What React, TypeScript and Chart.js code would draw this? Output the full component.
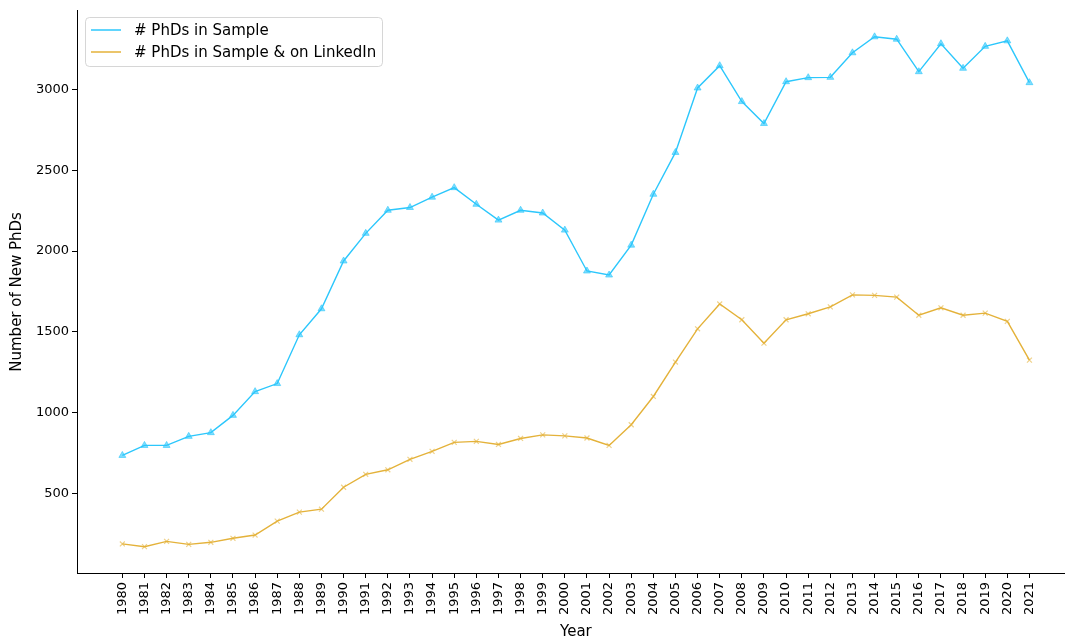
import React, { useEffect, useRef } from "react";
import { Chart, registerables } from "chart.js";

Chart.register(...registerables);

const years = [
  1980, 1981, 1982, 1983, 1984, 1985, 1986, 1987, 1988, 1989,
  1990, 1991, 1992, 1993, 1994, 1995, 1996, 1997, 1998, 1999,
  2000, 2001, 2002, 2003, 2004, 2005, 2006, 2007, 2008, 2009,
  2010, 2011, 2012, 2013, 2014, 2015, 2016, 2017, 2018, 2019,
  2020, 2021,
];

const phdsInSample = [
  735, 797, 797, 853, 876, 983, 1130, 1180, 1482, 1643,
  1939, 2110, 2253, 2270, 2334, 2393, 2290, 2192, 2253, 2236,
  2130, 1877, 1852, 2037, 2352, 2611, 3010, 3148, 2926, 2790,
  3049, 3074, 3076, 3228, 3327, 3312, 3111, 3284, 3132, 3268,
  3302, 3043,
];

const phdsOnLinkedIn = [
  187, 170, 203, 184, 197, 222, 242, 328, 384, 402,
  538, 618, 646, 711, 760, 816, 822, 803, 840, 862,
  856, 843, 797, 925, 1100, 1313, 1519, 1673, 1575, 1430,
  1575, 1612, 1655, 1729, 1726, 1715, 1603, 1649, 1603, 1616,
  1565, 1325,
];

const yTickValues = [500, 1000, 1500, 2000, 2500, 3000];
const seriesLabels = ["# PhDs in Sample", "# PhDs in Sample & on LinkedIn"];

const BLUE = "rgb(44,199,252)";
const BLUE_MARK = "rgba(44,199,252,0.6)";
const ORANGE = "rgb(228,178,58)";
const ORANGE_MARK = "rgba(228,178,58,0.6)";
const FONT = "'DejaVu Sans', sans-serif";
const FS = 15;
const TICK_FS = 13;

const legendBoxPlugin = {
  id: "legendBox",
  afterDraw(chart: any) {
    const ctx = chart.ctx as CanvasRenderingContext2D;
    const x = 85.5, y = 17.5, w = 297, h = 49, r = 4;
    ctx.save();
    ctx.beginPath();
    ctx.moveTo(x + r, y);
    ctx.lineTo(x + w - r, y);
    ctx.quadraticCurveTo(x + w, y, x + w, y + r);
    ctx.lineTo(x + w, y + h - r);
    ctx.quadraticCurveTo(x + w, y + h, x + w - r, y + h);
    ctx.lineTo(x + r, y + h);
    ctx.quadraticCurveTo(x, y + h, x, y + h - r);
    ctx.lineTo(x, y + r);
    ctx.quadraticCurveTo(x, y, x + r, y);
    ctx.closePath();
    ctx.fillStyle = "rgba(255,255,255,0.8)";
    ctx.fill();
    ctx.strokeStyle = "rgba(204,204,204,0.8)";
    ctx.lineWidth = 1;
    ctx.stroke();
    chart.data.datasets.forEach((ds: any, i: number) => {
      const ly = 30 + i * 22;
      ctx.beginPath();
      ctx.moveTo(91, ly);
      ctx.lineTo(121, ly);
      ctx.strokeStyle = ds.borderColor;
      ctx.lineWidth = 1.5;
      ctx.stroke();
      ctx.fillStyle = "#000";
      ctx.font = `${FS}px ${FONT}`;
      ctx.textBaseline = "middle";
      ctx.textAlign = "left";
      ctx.fillText(ds.label, 134, ly + 1);
    });
    ctx.restore();
  },
};

export default function App() {
  const canvasRef = useRef<HTMLCanvasElement | null>(null);

  useEffect(() => {
    if (!canvasRef.current) return;
    const chart = new Chart(canvasRef.current, {
      type: "line",
      data: {
        datasets: [
          {
            label: seriesLabels[0],
            data: years.map((yr, i) => ({ x: yr, y: phdsInSample[i] })),
            borderColor: BLUE,
            backgroundColor: BLUE_MARK,
            borderWidth: 1.4,
            pointStyle: "triangle",
            pointRadius: 4,
            pointBorderWidth: 1,
            pointBorderColor: BLUE_MARK,
            pointBackgroundColor: BLUE_MARK,
            tension: 0,
          },
          {
            label: seriesLabels[1],
            data: years.map((yr, i) => ({ x: yr, y: phdsOnLinkedIn[i] })),
            borderColor: ORANGE,
            backgroundColor: ORANGE_MARK,
            borderWidth: 1.4,
            pointStyle: "crossRot",
            pointRadius: 3.5,
            pointBorderWidth: 1.2,
            pointBorderColor: ORANGE_MARK,
            pointBackgroundColor: ORANGE_MARK,
            tension: 0,
          },
        ],
      },
      options: {
        animation: false,
        responsive: false,
        devicePixelRatio: 1,
        layout: { padding: { top: 10, right: 1, left: 0, bottom: 0 } },
        plugins: {
          legend: { display: false },
          tooltip: { enabled: false },
        },
        scales: {
          x: {
            type: "linear",
            min: years[0] - 2.05,
            max: years[years.length - 1] + 2.05,
            afterBuildTicks: (scale: any) => {
              scale.ticks = years.map((v) => ({ value: v }));
            },
            afterFit: (scale: any) => {
              scale.height = 68;
              scale.paddingLeft = 0;
              scale.paddingRight = 0;
            },
            ticks: {
              autoSkip: false,
              maxRotation: 90,
              minRotation: 90,
              padding: 4,
              color: "#000",
              font: { family: FONT, size: TICK_FS },
              callback: (v: any) => String(v),
            },
            grid: {
              display: true,
              drawOnChartArea: false,
              drawTicks: true,
              tickLength: 5,
              color: "#000",
              tickWidth: 1,
            },
            border: { display: true, color: "#000", width: 1 },
            title: {
              display: true,
              text: "Year",
              color: "#000",
              font: { family: FONT, size: FS },
              padding: { top: 0, bottom: 0 },
            },
          },
          y: {
            type: "linear",
            min: 7,
            max: 3488,
            afterBuildTicks: (scale: any) => {
              scale.ticks = yTickValues.map((v) => ({ value: v }));
            },
            afterFit: (scale: any) => {
              scale.width = 77;
            },
            ticks: {
              padding: 3,
              color: "#000",
              font: { family: FONT, size: TICK_FS },
              callback: (v: any) => String(v),
            },
            grid: {
              display: true,
              drawOnChartArea: false,
              drawTicks: true,
              tickLength: 5,
              color: "#000",
              tickWidth: 1,
            },
            border: { display: true, color: "#000", width: 1 },
            title: {
              display: true,
              text: "Number of New PhDs",
              color: "#000",
              font: { family: FONT, size: FS },
              padding: { top: 8, bottom: 0 },
            },
          },
        },
      },
      plugins: [legendBoxPlugin],
    } as any);
    return () => chart.destroy();
  }, []);

  return (
    <div
      style={{
        position: "fixed",
        left: 0,
        top: 0,
        width: 1065,
        height: 641,
        overflow: "hidden",
        background: "#fff",
      }}
    >
      <canvas ref={canvasRef} width={1080} height={641} style={{ display: "block" }} />
    </div>
  );
}
